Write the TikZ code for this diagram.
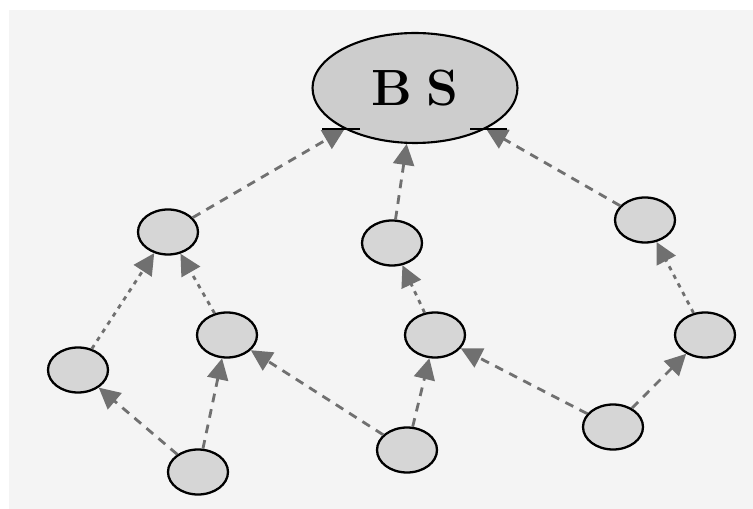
\documentclass[tikz,border=0pt]{standalone}
\usepackage{tikz}
\usetikzlibrary{arrows.meta, shapes.geometric, positioning}
\definecolor{paneBack}{HTML}{F4F4F4}
\definecolor{sensorFill}{HTML}{D6D6D6}
\definecolor{baseFill}{HTML}{CDCDCD}
\definecolor{linkGray}{HTML}{707070}
\tikzset{
  sensor/.style={ellipse, draw=black, line width=1.3pt, fill=sensorFill,
    minimum width=1.2cm, minimum height=0.9cm, inner sep=0pt},
  base/.style={ellipse, draw=black, line width=1.2pt, fill=baseFill,
    minimum width=4.1cm, minimum height=2.2cm, inner sep=0pt,
    font=\fontsize{29}{30}\selectfont\bfseries},
  link/.style={draw=linkGray, line width=1.6pt, dash pattern=on 5pt off 4pt,
    -{Triangle[length=12pt, width=12pt]}},
  hop/.style={link, dash pattern=on 2.5pt off 3pt}
}

\begin{document}
\begin{tikzpicture}[x=0.02cm, y=-0.02cm]
\useasboundingbox (0,0) rectangle (753,509);
\fill[paneBack] (9,10) rectangle (753,509);
\node[base] (bs) at (415,88) {B\hspace{0.3cm}S};
% sensors
\node[sensor] (s1) at (168,232) {};
\node[sensor] (s2) at (78,370) {};
\node[sensor] (s3) at (227,335) {};
\node[sensor] (s4) at (198,472) {};
\node[sensor] (s5) at (392,243) {};
\node[sensor] (s6) at (435,335) {};
\node[sensor] (s7) at (407,450) {};
\node[sensor] (s8) at (645,220) {};
\node[sensor] (s9) at (705,335) {};
\node[sensor] (s10) at (613,427) {};
% links towards the base station
\draw [link] (s1) -- (bs);
\draw [link] (s5) -- (bs);
\draw [link] (s8) -- (bs);
\draw [hop] (s2) -- (s1);
\draw [hop] (s3) -- (s1);
\draw [link] (s4) -- (s2);
\draw [link] (s4) -- (s3);
\draw [link] (s7) -- (s3);
\draw [hop] (s6) -- (s5);
\draw [link] (s7) -- (s6);
\draw [link] (s10) -- (s6);
\draw [hop] (s9) -- (s8);
\draw [link] (s10) -- (s9);
% rule under the base station
\draw[black, line width=1.1pt] (322,129) -- (360,129) (470,129) -- (507,129);
\end{tikzpicture}
\end{document}
